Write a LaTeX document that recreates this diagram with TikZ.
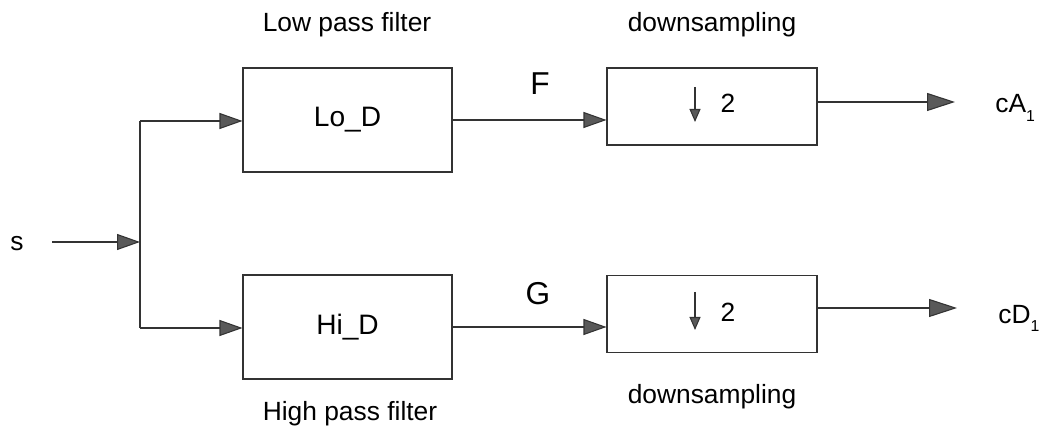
\documentclass[tikz,border=0pt]{standalone}
\usepackage{fontspec}
\setmainfont{Liberation Sans}
\usetikzlibrary{positioning,arrows.meta,calc}
\newcommand\lowsub[1]{\raisebox{-0.6ex}{\fontsize{9}{10}\selectfont #1}}
\tikzset{
  filt/.style={draw=black!80,line width=0.6pt,minimum width=41.8mm,minimum height=20.8mm,
    inner sep=0pt,font=\fontsize{16}{18}\selectfont},
  dsbox/.style={draw=black!80,line width=0.6pt,minimum width=42mm,minimum height=15.4mm,inner sep=0pt},
  wire/.style={draw=black!80,line width=0.6pt},
  sig/.style={wire,-{Triangle[length=4.6mm,width=3.2mm,fill=black!65]}},
  outsig/.style={wire,-{Triangle[length=5.6mm,width=3.6mm,fill=black!65]}},
  dnarr/.style={wire,-{Triangle[length=2.6mm,width=2.2mm,fill=black!65]}},
  lbl/.style={font=\fontsize{15}{18}\selectfont,inner sep=0pt},
  big/.style={font=\fontsize{18}{20}\selectfont,inner sep=0pt},
}
\begin{document}
\begin{tikzpicture}[x=0.2mm,y=-0.2mm]
  \useasboundingbox (0,0) rectangle (1044,437);
  % filter bank
  \node[filt] (lo) at (347.5,120) {Lo\_D};
  \node[filt] (hi) at (347.5,327) {Hi\_D};
  \node[dsbox] (dsA) at (712,106.5) {};
  \node[dsbox] (dsD) at (712,314) {};
  \node[lbl] (twoA) at ($(dsA.center)+(16,-3)$) {2};
  \node[lbl] (twoD) at ($(dsD.center)+(16,-2)$) {2};
  \draw[dnarr] ($(dsA.center)+(-17,-19.5)$) -- ++(0,35);
  \draw[dnarr] ($(dsD.center)+(-17,-22)$) -- ++(0,38);
  % captions
  \node[lbl,anchor=base] (lpf) at (347,32) {Low pass filter};
  \node[lbl,anchor=base] (hpf) at (350,420) {High pass filter};
  \node[lbl,anchor=base] (dsT) at (712,32) {downsampling};
  \node[lbl,anchor=base] (dsB) at (712,403) {downsampling};
  \node[big,anchor=base] (F) at (540,95) {F};
  \node[big,anchor=base] (G) at (538,305) {G};
  % signals
  \node[lbl,anchor=base] (s) at (17,251) {s};
  \node[lbl,anchor=base west] (cA) at (995,113) {cA\lowsub{1}};
  \node[lbl,anchor=base west] (cD) at (998,323) {cD\lowsub{1}};
  \coordinate (jn) at (140,242);
  \coordinate (jt) at (140,121);
  \coordinate (jb) at (140,328);
  \coordinate (oA) at (955,102);
  \coordinate (oD) at (957,308);
  \draw[sig,shorten <=5.7mm] (s.east |- jn) -- (jn);
  \draw[wire] (jt) -- (jb);
  \draw[sig] (jt) -- (lo.west |- jt);
  \draw[sig] (jb) -- (hi.west |- jb);
  \draw[sig] (lo.east) -- (lo.east -| dsA.west);
  \draw[sig] (hi.east) -- (hi.east -| dsD.west);
  \draw[outsig] (dsA.east |- oA) -- (oA);
  \draw[outsig] (dsD.east |- oD) -- (oD);
\end{tikzpicture}
\end{document}
